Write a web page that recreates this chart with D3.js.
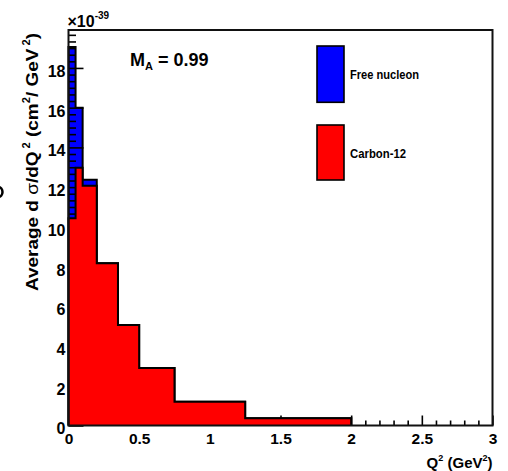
<!DOCTYPE html>
<html>
<head>
<meta charset="utf-8">
<script src="https://cdn.jsdelivr.net/npm/d3@7"></script>
<style>
  html, body { margin: 0; padding: 0; background: #fff; }
  svg { display: block; }
  text { font-family: "Liberation Sans", Arial, sans-serif; font-weight: bold; }
</style>
</head>
<body>
<svg id="chart" width="508" height="471"></svg>
<script>
// ---- data ----
const binEdges     = [0, 0.05, 0.1, 0.2, 0.35, 0.5, 0.75, 1.25, 2.0];
const freeNucleon  = [19.05, 16.0, 12.37, 8.17, 5.06, 2.9, 1.2, 0.37];
const carbon12     = [10.43, 12.97, 12.07, 8.17, 5.06, 2.9, 1.2, 0.37];
const seriesNames  = ["Free nucleon", "Carbon-12"];
const seriesColors = ["#0000ff", "#ff0000"];
const xTickValues  = [0, 0.5, 1, 1.5, 2, 2.5, 3];
const xTickLabels  = ["0", "0.5", "1", "1.5", "2", "2.5", "3"];
const yTickValues  = [0, 2, 4, 6, 8, 10, 12, 14, 16, 18];
const yTickLabels  = ["0", "2", "4", "6", "8", "10", "12", "14", "16", "18"];

const svg = d3.select("#chart");
const L = 68.5, R = 492.5, T = 30, B = 425.5;
const x = d3.scaleLinear().domain([0, 3]).range([L, R]);
const y = d3.scaleLinear().domain([0, 19.91]).range([B, T]);

function histPoints(vals) {
  const pts = [[binEdges[0], 0]];
  vals.forEach((v, i) => { pts.push([binEdges[i], v]); pts.push([binEdges[i + 1], v]); });
  pts.push([binEdges[binEdges.length - 1], 0]);
  return pts;
}
const line = d3.line().x(d => x(d[0])).y(d => y(d[1]));

function drawHist(vals, color) {
  const pts = histPoints(vals);
  svg.append("path").attr("d", line(pts) + "Z").attr("fill", color).attr("stroke", "none");
  svg.append("path").attr("d", line(pts)).attr("fill", "none")
    .attr("stroke", "#000").attr("stroke-width", 2).attr("stroke-linejoin", "miter");
}

// blue first
drawHist(freeNucleon, seriesColors[0]);

// axes (ticks inward)
const yMinor = d3.range(0, 19.91, 1 / 3).filter(v => Math.abs(v / 2 - Math.round(v / 2)) > 1e-6);
const xMinor = d3.range(0, 3.0001, 0.1).filter(v => Math.abs(v / 0.5 - Math.round(v / 0.5)) > 1e-6);

const gy = svg.append("g").attr("transform", `translate(${L},0)`)
  .call(d3.axisLeft(y).tickValues(yTickValues).tickSize(-15).tickPadding(3)
        .tickFormat((d, i) => yTickLabels[i]));
const gyMin = svg.append("g").attr("transform", `translate(${L},0)`)
  .call(d3.axisLeft(y).tickValues(yMinor).tickSize(-7.5).tickFormat(""));
const gx = svg.append("g").attr("transform", `translate(0,${B})`)
  .call(d3.axisBottom(x).tickValues(xTickValues).tickSize(-10).tickPadding(7.5)
        .tickFormat((d, i) => xTickLabels[i]));
const gxMin = svg.append("g").attr("transform", `translate(0,${B})`)
  .call(d3.axisBottom(x).tickValues(xMinor).tickSize(-5).tickFormat(""));
[gy, gyMin, gx, gxMin].forEach(g => {
  g.select(".domain").remove();
  g.selectAll("line").attr("stroke", "#000").attr("stroke-width", 1.6);
  g.attr("font-family", null).attr("font-size", null);
});
gy.selectAll("text").attr("font-size", 16).attr("fill", "#000").attr("dy", "0.53em");
gx.selectAll("text").attr("font-size", 15.5).attr("fill", "#000");

// red on top
drawHist(carbon12, seriesColors[1]);

// frame
svg.append("rect").attr("x", L).attr("y", T).attr("width", R - L).attr("height", B - T)
  .attr("fill", "none").attr("stroke", "#111").attr("stroke-width", 2);

// exponent label
const ex = svg.append("text").attr("x", 67.5).attr("y", 26.7).attr("font-size", 16).attr("fill", "#000");
ex.append("tspan").text("×10");
ex.append("tspan").attr("font-size", 10).attr("dy", -8).text("-39");

// M_A label
const ma = svg.append("text").attr("x", 130).attr("y", 65.5).attr("font-size", 18).attr("fill", "#000");
ma.append("tspan").text("M");
ma.append("tspan").attr("font-size", 11).attr("dy", 4).text("A");
ma.append("tspan").attr("dy", -4).text(" = 0.99");

// legend
const legend = [
  { name: seriesNames[0], color: seriesColors[0], top: 46, bottom: 102.3, base: 79.3, len: 69 },
  { name: seriesNames[1], color: seriesColors[1], top: 125, bottom: 180, base: 158.2, len: 56 }
];
legend.forEach(l => {
  svg.append("rect").attr("x", 317).attr("y", l.top).attr("width", 27).attr("height", l.bottom - l.top)
    .attr("fill", l.color).attr("stroke", "#000").attr("stroke-width", 1.6);
  svg.append("text").attr("x", 350).attr("y", l.base).attr("font-size", 12)
    .attr("textLength", l.len).attr("lengthAdjust", "spacingAndGlyphs").text(l.name);
});

// x title
const xt = svg.append("text").attr("x", 492.5).attr("y", 467.5).attr("font-size", 15)
  .attr("text-anchor", "end").attr("fill", "#000");
xt.append("tspan").text("Q");
xt.append("tspan").attr("font-size", 9).attr("dy", -7).text("2");
xt.append("tspan").attr("dy", 7).text(" (GeV");
xt.append("tspan").attr("font-size", 9).attr("dy", -7).text("2");
xt.append("tspan").attr("dy", 7).text(")");

// y title
const yt = svg.append("text").attr("transform", "translate(38.3,162) rotate(-90)")
  .attr("text-anchor", "middle").attr("font-size", 17).attr("fill", "#000")
  .attr("textLength", 258).attr("lengthAdjust", "spacingAndGlyphs");
yt.append("tspan").text("Average d ");
yt.append("tspan").attr("font-weight", "normal").text("σ");
yt.append("tspan").text("/dQ");
yt.append("tspan").attr("font-size", 10).attr("dy", -8).text(" 2");
yt.append("tspan").attr("dy", 8).text(" (cm");
yt.append("tspan").attr("font-size", 10).attr("dy", -8).text("2");
yt.append("tspan").attr("dy", 8).text("/ GeV");
yt.append("tspan").attr("font-size", 10).attr("dy", -8).text(" 2");
yt.append("tspan").attr("dy", 8).text(")");

// stray clipped mark at left edge of the original image
svg.append("ellipse").attr("cx", -1.5).attr("cy", 192).attr("rx", 4).attr("ry", 5)
  .attr("fill", "none").attr("stroke", "#000").attr("stroke-width", 2.5);
</script>
</body>
</html>
